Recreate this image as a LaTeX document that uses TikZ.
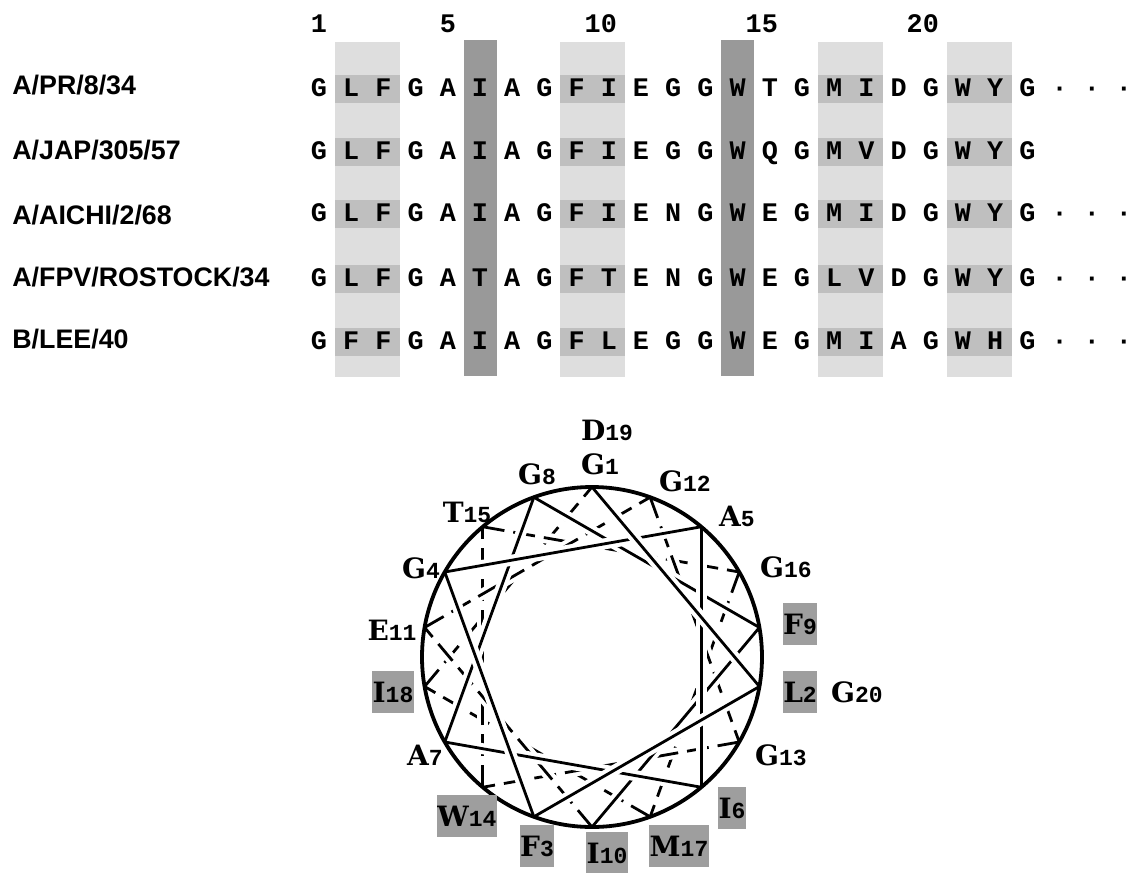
\documentclass[tikz,border=0pt]{standalone}
\usepackage{fontspec}
\setmainfont{Liberation Sans}
\newfontfamily\monofam{Liberation Mono}
\newfontfamily\wheelfam{DejaVu Serif}
\newcommand\cx[1]{319+32.2*(#1-1)}
\newcommand\wnum[1]{{\monofam\fontsize{11.5pt}{12pt}\selectfont #1}}
\begin{document}
\begin{tikzpicture}[x=0.5pt,y=-0.5pt,
  rowlabel/.style={anchor=west,inner sep=0pt,font=\fontsize{13.4pt}{16pt}\selectfont\bfseries,text height=9.6pt,text depth=0pt},
  seqletter/.style={inner sep=0pt,font=\monofam\fontsize{13.4pt}{16pt}\selectfont\bfseries,text height=7.6pt,text depth=0pt},
  posnum/.style={inner sep=0pt,font=\monofam\fontsize{13.4pt}{16pt}\selectfont\bfseries,text height=7.6pt,text depth=0pt},
  wlab/.style={inner xsep=0.3pt,inner ysep=5.5pt,text height=10pt,text depth=0pt,font=\wheelfam\fontsize{14pt}{16pt}\selectfont\bfseries},
  wshade/.style={wlab,fill=black!38},
  chordsolid/.style={line width=1.4pt,line cap=round},
  chorddash/.style={line width=1.4pt,dash pattern=on 11pt off 4.5pt},
  halo/.style={white,line width=5.5pt,shorten <=9pt,shorten >=9pt},
  lightcol/.style={fill=black!13},
  lightband/.style={fill=black!25},
  darkcol/.style={fill=black!40}
]
\useasboundingbox (0,0) rectangle (1136,873);
\fill[white] (0,0) rectangle (1136,873);

% ---- shaded columns ----
\foreach \a/\b in {2/3,9/10,17/18,21/22} {
  \fill[lightcol] ({\cx{\a}-16.5},42) rectangle ({\cx{\b}+16.5},377);
  \foreach \yy in {89,152,214,279,342}
    \fill[lightband] ({\cx{\a}-16.5},\yy-14) rectangle ({\cx{\b}+16.5},\yy+14);
}
\foreach \a in {6,14}
  \fill[darkcol] ({\cx{\a}-16.5},40) rectangle ({\cx{\a}+16.5},376);

% ---- position numbers ----
\node[posnum] (n1) at ({\cx{1}},25) {1};
\node[posnum] (n5) at ({\cx{5}},25) {5};
\node[posnum] (n10) at ({\cx{10}-8},25) {10};
\node[posnum] (n15) at ({\cx{15}-8},25) {15};
\node[posnum] (n20) at ({\cx{20}-8},25) {20};

% ---- row labels ----
\foreach \r/\yy/\t in {1/85/A\slash PR\slash 8\slash 34,2/150/A\slash JAP\slash 305\slash 57,3/215/A\slash AICHI\slash 2\slash 68,4/277/A\slash FPV\slash ROSTOCK\slash 34,5/339/B\slash LEE\slash 40}
  \node[rowlabel] (lab\r) at (12,\yy) {\t};

% ---- sequences ----
\foreach \r/\yy/\s in {
  1/89/{G,L,F,G,A,I,A,G,F,I,E,G,G,W,T,G,M,I,D,G,W,Y,G,·,·,·},
  2/152/{G,L,F,G,A,I,A,G,F,I,E,G,G,W,Q,G,M,V,D,G,W,Y,G},
  3/214/{G,L,F,G,A,I,A,G,F,I,E,N,G,W,E,G,M,I,D,G,W,Y,G,·,·,·},
  4/279/{G,L,F,G,A,T,A,G,F,T,E,N,G,W,E,G,L,V,D,G,W,Y,G,·,·,·},
  5/342/{G,F,F,G,A,I,A,G,F,L,E,G,G,W,E,G,M,I,A,G,W,H,G,·,·,·}} {
  \foreach \c [count=\i] in \s
    \node[seqletter] (s\r-\i) at ({\cx{\i}},\yy) {\c};
}

% ---- helical wheel ----
\coordinate (c) at (592,657);
\foreach \n in {1,...,18}
  \coordinate (v\n) at ({592+170*cos(90-100*(\n-1))},{657-170*sin(90-100*(\n-1))});
\foreach \k in {18,17,...,1} {
  \pgfmathtruncatemacro\nx{mod(\k,18)+1}
  \draw[halo] (v\k) -- (v\nx);
  \ifnum\k>9
    \draw[chorddash] (v\k) -- (v\nx);
  \else
    \draw[chordsolid] (v\k) -- (v\nx);
  \fi
}
\draw[line width=1.9pt] (c) circle [radius=85pt];

\foreach \nm/\px/\py/\L/\D/\sty in {
  D19/607/430/D/19/wlab, G1/600/464/G/1/wlab, G8/537/474/G/8/wlab,
  G12/685/481/G/12/wlab, T15/467/512/T/15/wlab, A5/737/516/A/5/wlab,
  G4/421/568/G/4/wlab, G16/786/567/G/16/wlab, F9/800/624/F/9/wshade,
  E11/392/630/E/11/wlab, L2/800/692/L/2/wshade, G20/857/692/G/20/wlab,
  I18/393/692/I/18/wshade, A7/425/755/A/7/wlab, G13/781/755/G/13/wlab,
  I6/732/808/I/6/wshade, W14/467/816/W/14/wshade, F3/537/846/F/3/wshade,
  I10/607/853/I/10/wshade, M17/679/846/M/17/wshade}
  \node[\sty] (w\nm) at (\px,\py) {\L\wnum{\D}};
\end{tikzpicture}
\end{document}
